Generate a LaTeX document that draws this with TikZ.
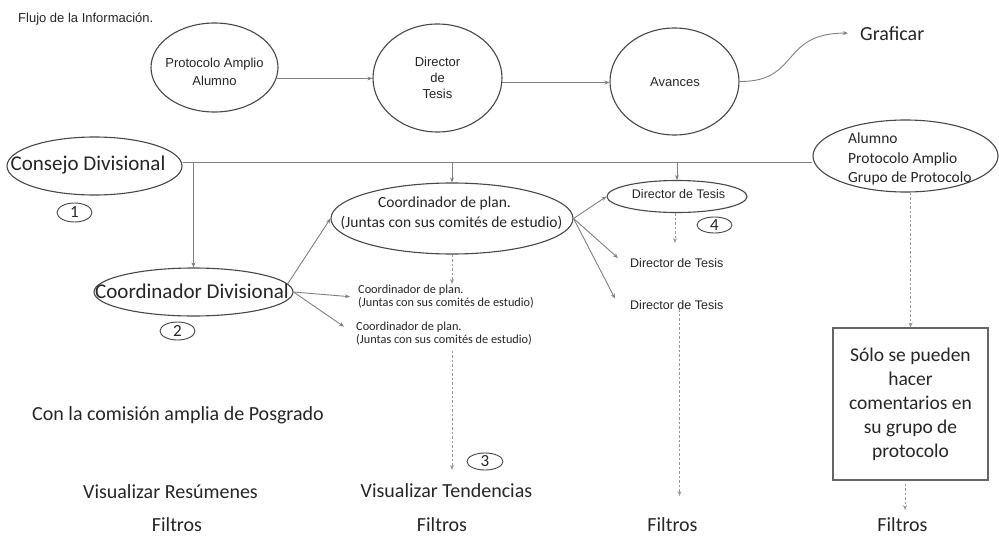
\documentclass[tikz,border=0pt]{standalone}
\usepackage{fontspec}
\setmainfont{Carlito}
\newfontfamily\arialf{Liberation Sans}
\usetikzlibrary{shapes.geometric,arrows.meta}
\tikzset{
  ell/.style={draw=black!72, line width=1.1pt, ellipse, inner sep=0pt},
  numc/.style={draw=black!72, line width=0.9pt, ellipse, inner sep=0pt, font=\fontsize{17}{20}\selectfont, text=black!85},
  conn/.style={draw=black!50, line width=0.9pt},
  arr/.style={conn, -{Stealth[length=5pt,width=4pt]}},
  darr/.style={draw=black!40, line width=0.9pt, dash pattern=on 2.5pt off 2pt, -{Stealth[length=5pt,width=4pt]}},
  txt/.style={inner sep=0pt, text=black!85},
  fontAr/.style={font=\arialf\fontsize{13}{18}\selectfont},
  fontArS/.style={font=\arialf\fontsize{12.5}{15}\selectfont},
  fontBig/.style={font=\fontsize{20}{24}\selectfont},
  fontBigL/.style={font=\fontsize{21}{24}\selectfont},
  fontMid/.style={font=\fontsize{15.5}{19.5}\selectfont},
  fontSml/.style={font=\fontsize{12.3}{13.5}\selectfont},
}
\begin{document}
\begin{tikzpicture}[x=1pt,y=-1pt]
\fill[white] (0,0) rectangle (999,538);
\useasboundingbox (0,0) rectangle (999,538);

% title
\node[txt, fontAr, anchor=base west] (title) at (18,22) {Flujo de la Información.};

% top row
\node[ell, minimum width=127pt, minimum height=89pt] (e1) at (214.5,67.5) {};
\node[txt, fontAr, align=center] (e1t) at (214.5,72.3) {Protocolo Amplio\\Alumno};
\node[ell, minimum width=129pt, minimum height=108pt] (e2) at (437.5,78) {};
\node[txt, font=\arialf\fontsize{13}{16}\selectfont, align=center] (e2t) at (437.5,78.3) {Director\\de\\Tesis};
\node[ell, minimum width=129pt, minimum height=107pt] (e3) at (674.5,81.5) {};
\node[txt, fontAr, anchor=base] (e3t) at (675,86) {Avances};
\node[txt, fontBig, anchor=base west] (graf) at (860,40) {Graficar};

\draw[arr] (e1.-10) -- (e2.west |- e1.-10);
\draw[arr] (e2.-4) -- (e3.west |- e2.-4);
\draw[arr, shorten >=12pt] (e3.east) .. controls (800,82) and (780,33) .. (graf.west);

% second row
\node[ell, minimum width=175pt, minimum height=58pt] (cons) at (94.5,166) {};
\node[txt, fontBigL, anchor=base] (const) at (88,170) {Consejo Divisional};
\node[ell, minimum width=185pt, minimum height=72pt] (alum) at (905.5,156) {};
\node[txt, fontMid, align=left, anchor=west] (alumt) at (848,159) {Alumno\\Protocolo Amplio\\Grupo de Protocolo};
\coordinate (hl) at (0,162);
\draw[conn] (cons.east |- hl) -- (alum.west |- hl);

\node[numc, minimum width=35pt, minimum height=19pt] (n1) at (74.5,212.5) {1};

% coordinador divisional
\node[ell, minimum width=199pt, minimum height=48pt] (cd) at (193.5,292) {};
\node[txt, fontBigL, anchor=base] (cdt) at (192,298) {Coordinador Divisional};
\node[numc, minimum width=35pt, minimum height=18pt] (n2) at (177.5,331) {2};

% coordinador de plan
\node[ell, minimum width=242pt, minimum height=71pt] (cp) at (452,218.5) {};
\node[txt, fontMid, align=center] (cpt) at (451.5,213) {Coordinador de plan.\rule{14pt}{0pt}\\(Juntas con sus comités de estudio)};

\node[txt, fontSml, align=left, anchor=west, inner xsep=8pt] (s1) at (350,296.7) {Coordinador de plan.\\(Juntas con sus comités de estudio)};
\node[txt, fontSml, align=left, anchor=west, inner xsep=12pt] (s2) at (344,333.7) {Coordinador de plan.\\(Juntas con sus comités de estudio)};

% director de tesis
\node[ell, minimum width=140pt, minimum height=32pt] (d1) at (677,196.5) {};
\node[txt, fontArS, anchor=base] (d1t) at (678.5,198) {Director de Tesis};
\node[txt, fontArS, anchor=base west, inner xsep=12pt] (d2) at (618,267) {Director de Tesis};
\node[txt, fontArS, anchor=base west, inner xsep=12pt] (d3) at (618,309) {Director de Tesis};
\node[numc, minimum width=35pt, minimum height=16pt] (n4) at (714.5,225) {4};

% box
\node[draw=black!60, line width=1.1pt, minimum width=155pt, minimum height=152pt, inner sep=0pt, align=center, text=black!85, font=\fontsize{19.5}{24}\selectfont] (box) at (910.5,404) {Sólo se pueden\\hacer\\comentarios en\\su grupo de\\protocolo};

% bottom texts
\node[txt, fontBig, anchor=base west] (con) at (32,420) {Con la comisión amplia de Posgrado};
\node[txt, fontBig, anchor=base] (vr) at (170.5,498) {Visualizar Resúmenes};
\node[txt, fontBig, anchor=base] (vt) at (446.5,497) {Visualizar Tendencias};
\node[numc, minimum width=36pt, minimum height=17pt] (n3) at (485,461.5) {3};
\node[txt, fontBig, anchor=base] (f1) at (177,531) {Filtros};
\node[txt, fontBig, anchor=base] (f2) at (442,531) {Filtros};
\node[txt, fontBig, anchor=base] (f3) at (672.5,531) {Filtros};
\node[txt, fontBig, anchor=base] (f4) at (902.5,531) {Filtros};

% drops from the horizontal line
\draw[arr] (cd.north |- hl) -- (cd.north);
\draw[arr] (cp.north |- hl) -- (cp.north);
\draw[arr] (d1.north |- hl) -- (d1.north);

% from coordinador divisional
\draw[arr] (cd.5) -- (cp.west);
\draw[arr] (cd.east) -- (s1.west);
\draw[arr] (cd.east) -- ([yshift=7pt]s2.west);

% from coordinador de plan
\draw[arr] (cp.east) -- (d1.west);
\draw[arr] (cp.east) -- ([yshift=4.5pt]d2.west);
\draw[arr] (cp.east) -- ([xshift=-3pt,yshift=6pt]d3.west);

% dashed
\coordinate (cpend1) at (452,284);
\coordinate (cpend2) at (452,470);
\coordinate (d1end) at (675,243);
\coordinate (d3end) at (679.5,496);
\coordinate (bxend) at (905,510);
\draw[darr] (cp.south -| cpend1) -- (cpend1);
\draw[darr, shorten <=5pt] (s2.south -| cpend2) -- (cpend2);
\draw[darr] (d1.south -| d1end) -- (d1end);
\draw[darr] (d3.south -| d3end) -- (d3end);
\draw[darr] (box.north |- alum.south) -- (box.north);
\draw[darr, shorten <=3pt] (box.south -| bxend) -- (bxend);
\end{tikzpicture}
\end{document}
